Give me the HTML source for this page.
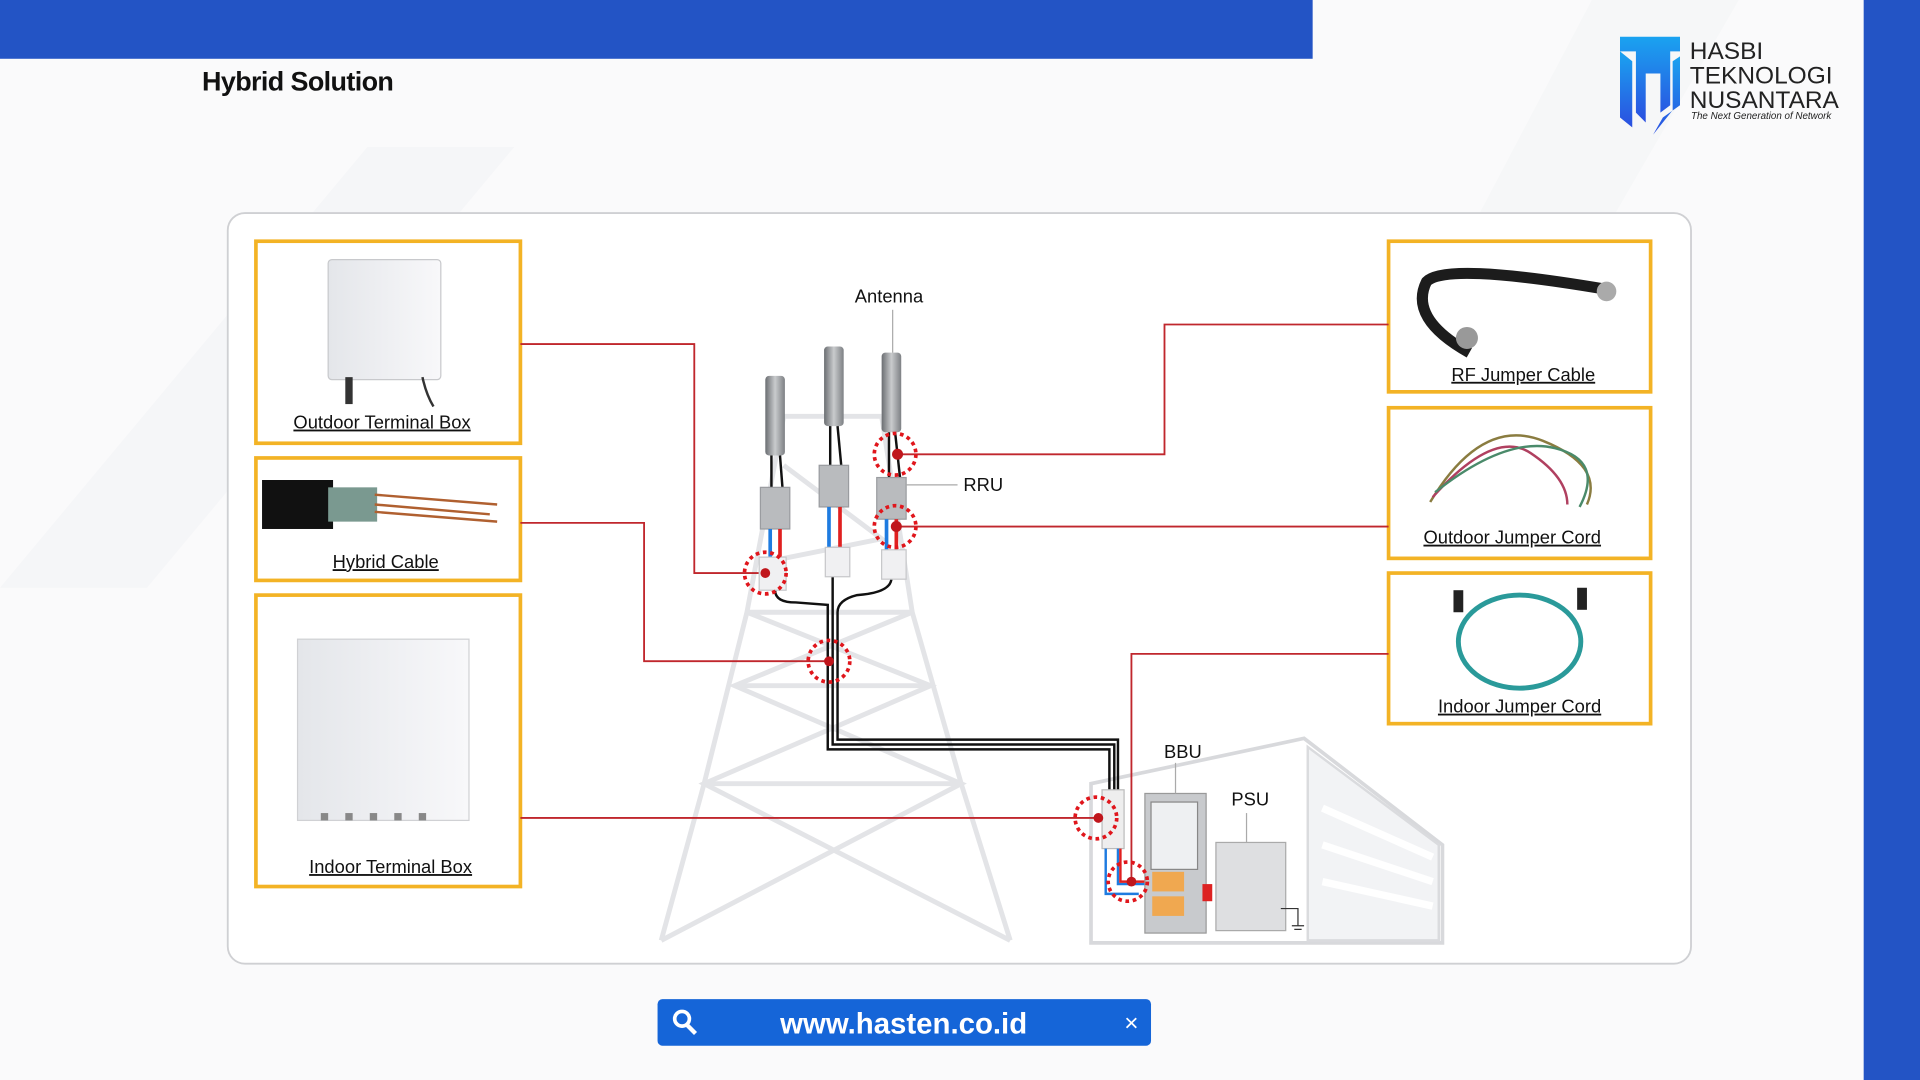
<!DOCTYPE html>
<html><head><meta charset="utf-8"><style>
html,body{margin:0;padding:0;background:#fff;overflow:hidden}
svg{display:block}
text{font-family:"Liberation Sans",sans-serif}
</style></head><body>
<svg width="1920" height="1080" viewBox="0 0 1568 882" xmlns="http://www.w3.org/2000/svg">
<defs>
<linearGradient id="cyl" x1="0" x2="1"><stop offset="0" stop-color="#6b6e72"/><stop offset=".5" stop-color="#c9cbcd"/><stop offset="1" stop-color="#7d8084"/></linearGradient>
<linearGradient id="box" x1="0" x2="1"><stop offset="0" stop-color="#e4e6ea"/><stop offset="1" stop-color="#f8f8fa"/></linearGradient>
<linearGradient id="logo" x1="0" x2="0" y1="0" y2="1"><stop offset="0" stop-color="#1aa3f0"/><stop offset="1" stop-color="#2b4fe0"/></linearGradient>
</defs>
<rect width="1568" height="882" fill="#fafafb"/>
<polygon points="0,480 300,120 420,120 120,480" fill="#f5f6f8"/>
<polygon points="1100,380 1300,0 1420,0 1200,380" fill="#f6f7f8"/>
<rect x="0" y="0" width="1072" height="48" fill="#2354c5"/>
<rect x="1522" y="0" width="46" height="882" fill="#2354c5"/>
<text x="165" y="74" font-size="22" font-weight="bold" fill="#111" letter-spacing="-0.5">Hybrid Solution</text>
<!-- logo -->
<g>
<polygon points="1323,30 1372,30 1372,42 1364,42 1364,86 1356,92 1356,60 1344,60 1344,100 1336,92 1336,42 1323,42" fill="url(#logo)"/>
<polygon points="1323,42 1333,50 1333,104 1323,96" fill="url(#logo)"/>
<polygon points="1358,96 1372,86 1372,46 1366,50 1366,90 1350,110" fill="url(#logo)"/>
<text x="1380" y="48" font-size="20" fill="#222">HASBI</text>
<text x="1380" y="68" font-size="20" fill="#222">TEKNOLOGI</text>
<text x="1380" y="88" font-size="20" fill="#222">NUSANTARA</text>
<text x="1381" y="97" font-size="8" font-style="italic" fill="#222">The Next Generation of Network</text>
</g>
<!-- panel -->
<rect x="186" y="174" width="1195" height="613" rx="14" fill="#fff" stroke="#cfd0d3" stroke-width="1.5"/>
<!-- tower -->
<g fill="none" stroke="#e3e4e7" stroke-width="4">
<polyline points="640,340 610,500 575,640 540,768"/>
<polyline points="720,340 745,500 785,640 825,768"/>
<polyline points="610,500 745,500"/><polyline points="600,560 760,560"/><polyline points="575,640 785,640"/>
<polyline points="610,500 760,560 575,640 825,768"/><polyline points="745,500 600,560 785,640 540,768"/>
<polyline points="640,340 720,340"/><polyline points="640,380 720,440 620,460"/>
</g>
<!-- building -->
<polygon points="891,770 891,640 1065,603 1178,690 1178,770" fill="#fff" stroke="#d8d9dc" stroke-width="3"/>
<polygon points="1068,610 1175,690 1175,768 1068,768" fill="#f2f3f5" stroke="#dadbde" stroke-width="2"/>
<g stroke="#fff" stroke-width="6"><line x1="1080" y1="660" x2="1170" y2="700"/><line x1="1080" y1="690" x2="1170" y2="720"/><line x1="1080" y1="720" x2="1170" y2="740"/></g>
<!-- orange boxes -->
<g fill="#fff" stroke="#f3b325" stroke-width="3">
<rect x="209" y="197" width="216" height="165"/>
<rect x="209" y="374" width="216" height="100"/>
<rect x="209" y="486" width="216" height="238"/>
<rect x="1134" y="197" width="214" height="123"/>
<rect x="1134" y="333" width="214" height="123"/>
<rect x="1134" y="468" width="214" height="123"/>
</g>
<!-- product images -->
<rect x="268" y="212" width="92" height="98" rx="3" fill="url(#box)" stroke="#c8c9cc"/>
<rect x="282" y="308" width="6" height="22" fill="#333"/><path d="M345,308 Q348,322 354,332" stroke="#333" stroke-width="2" fill="none"/>
<rect x="214" y="392" width="58" height="40" fill="#111"/>
<rect x="268" y="398" width="40" height="28" fill="#7a9990"/>
<path d="M306,404 L406,412 M306,418 L406,426 M306,412 L400,420" stroke="#b06030" stroke-width="2"/>
<rect x="243" y="522" width="140" height="148" fill="url(#box)" stroke="#d0d1d4"/>
<g fill="#888"><rect x="262" y="664" width="6" height="6"/><rect x="282" y="664" width="6" height="6"/><rect x="302" y="664" width="6" height="6"/><rect x="322" y="664" width="6" height="6"/><rect x="342" y="664" width="6" height="6"/></g>
<path d="M1200,288 Q1150,260 1165,230 Q1180,214 1310,236" stroke="#1c1c1c" stroke-width="9" fill="none"/>
<circle cx="1198" cy="276" r="9" fill="#999"/><circle cx="1312" cy="238" r="8" fill="#aaa"/>
<path d="M1168,410 Q1210,340 1260,360 T1296,412" stroke="#8a7c40" stroke-width="2" fill="none"/>
<path d="M1170,406 Q1220,350 1250,370 T1280,412" stroke="#b04060" stroke-width="2" fill="none"/>
<path d="M1172,402 Q1230,356 1270,366 T1290,414" stroke="#4a8a6a" stroke-width="2" fill="none"/>
<ellipse cx="1241" cy="524" rx="50" ry="38" stroke="#2a9a9a" stroke-width="4" fill="none"/>
<rect x="1187" y="482" width="8" height="18" fill="#222"/><rect x="1288" y="480" width="8" height="18" fill="#222"/>
<!-- box labels -->
<g font-size="15" fill="#111" text-anchor="middle">
<text x="312" y="350" text-decoration="underline">Outdoor Terminal Box</text>
<text x="315" y="464" text-decoration="underline">Hybrid Cable</text>
<text x="319" y="713" text-decoration="underline">Indoor Terminal Box</text>
<text x="1244" y="311" text-decoration="underline">RF Jumper Cable</text>
<text x="1235" y="444" text-decoration="underline">Outdoor Jumper Cord</text>
<text x="1241" y="582" text-decoration="underline">Indoor Jumper Cord</text>
</g>
<!-- red connectors -->
<g fill="none" stroke="#c0272d" stroke-width="1.5">
<polyline points="425,281 567,281 567,468 625,468"/>
<polyline points="425,427 526,427 526,540 677,540"/>
<polyline points="425,668 897,668"/>
<polyline points="1134,265 951,265 951,371 733,371"/>
<polyline points="1134,430 732,430"/>
<polyline points="1134,534 924,534 924,720"/>
</g>
<!-- black trunk cables -->
<g fill="none" stroke="#111" stroke-width="2">
<path d="M633,482 Q633,492 650,492 L676,494 L676,612 L906,612 L906,645"/>
<path d="M680,470 L680,608 L910,608 L910,645"/>
<path d="M728,472 Q728,484 700,486 Q684,490 684,500 L684,604 L913,604 L913,645"/>
</g>
<!-- antennas -->
<rect x="625" y="307" width="16" height="65" rx="3" fill="url(#cyl)"/>
<rect x="673" y="283" width="16" height="65" rx="3" fill="url(#cyl)"/>
<rect x="720" y="288" width="16" height="65" rx="3" fill="url(#cyl)"/>
<g stroke="#111" stroke-width="2"><line x1="630" y1="372" x2="630" y2="398"/><line x1="637" y1="372" x2="639" y2="398"/><line x1="678" y1="348" x2="678" y2="380"/><line x1="684" y1="348" x2="687" y2="380"/><line x1="726" y1="353" x2="726" y2="390"/><line x1="731" y1="353" x2="735" y2="390"/></g>
<!-- RRUs -->
<g fill="#b9bbbe" stroke="#9a9ca0"><rect x="621" y="398" width="24" height="34"/><rect x="669" y="380" width="24" height="34"/><rect x="716" y="390" width="24" height="34"/></g>
<g stroke-width="3"><line x1="629" y1="432" x2="629" y2="455" stroke="#1e7be0"/><line x1="637" y1="432" x2="637" y2="455" stroke="#e02020"/>
<line x1="677" y1="414" x2="677" y2="447" stroke="#1e7be0"/><line x1="686" y1="414" x2="686" y2="447" stroke="#e02020"/>
<line x1="724" y1="424" x2="724" y2="449" stroke="#1e7be0"/><line x1="732" y1="424" x2="732" y2="449" stroke="#e02020"/></g>
<g fill="#f0f0f2" stroke="#c6c7ca"><rect x="620" y="455" width="22" height="27"/><rect x="674" y="447" width="20" height="24"/><rect x="720" y="449" width="20" height="24"/></g>
<!-- BBU cabinet -->
<rect x="900" y="645" width="18" height="48" fill="#eee" stroke="#bbb"/>
<path d="M903,693 L903,730 L930,730 M913,693 L913,722 L935,722" fill="none" stroke="#1e7be0" stroke-width="2"/>
<path d="M915,693 L915,720 L935,720" fill="none" stroke="#e02020" stroke-width="2"/>
<rect x="935" y="648" width="50" height="114" fill="#c8cacd" stroke="#999"/>
<rect x="940" y="655" width="38" height="55" fill="#eef0f2" stroke="#888"/>
<rect x="941" y="712" width="26" height="16" fill="#f0a850"/><rect x="941" y="732" width="26" height="16" fill="#f0a850"/>
<rect x="993" y="688" width="57" height="72" fill="#dedfe1" stroke="#aaa"/>
<rect x="982" y="722" width="8" height="14" fill="#d22"/>
<path d="M1046,742 L1060,742 L1060,756 M1055,756 L1065,756 M1057,759 L1063,759" stroke="#333" fill="none"/>
<!-- dashed circles -->
<g fill="none" stroke="#e0161c" stroke-width="3" stroke-dasharray="3,3">
<circle cx="625" cy="468" r="17"/><circle cx="677" cy="540" r="17"/><circle cx="731" cy="371" r="17"/><circle cx="731" cy="430" r="17"/><circle cx="895" cy="668" r="17"/><circle cx="921" cy="720" r="16"/>
</g>
<g fill="#c0161c"><circle cx="625" cy="468" r="4"/><circle cx="677" cy="540" r="4"/><circle cx="733" cy="371" r="4.5"/><circle cx="732" cy="430" r="4.5"/><circle cx="897" cy="668" r="4"/><circle cx="924" cy="720" r="4"/></g>
<!-- labels -->
<g stroke="#aaa" stroke-width="1"><line x1="729" y1="253" x2="729" y2="288"/><line x1="740" y1="396" x2="782" y2="396"/><line x1="960" y1="623" x2="960" y2="648"/><line x1="1018" y1="664" x2="1018" y2="688"/></g>
<g font-size="15" fill="#111" text-anchor="middle">
<text x="726" y="247">Antenna</text><text x="803" y="401">RRU</text><text x="966" y="619">BBU</text><text x="1021" y="658">PSU</text>
</g>
<!-- search bar -->
<rect x="537" y="816" width="403" height="38" rx="4" fill="#1565d8"/>
<circle cx="557" cy="832" r="6" fill="none" stroke="#fff" stroke-width="3"/>
<line x1="561" y1="837" x2="568" y2="844" stroke="#fff" stroke-width="3.5"/>
<text x="738" y="844" font-size="24" font-weight="bold" fill="#fff" text-anchor="middle">www.hasten.co.id</text>
<text x="924" y="842" font-size="20" fill="#fff" text-anchor="middle">×</text>
</svg>
</body></html>
